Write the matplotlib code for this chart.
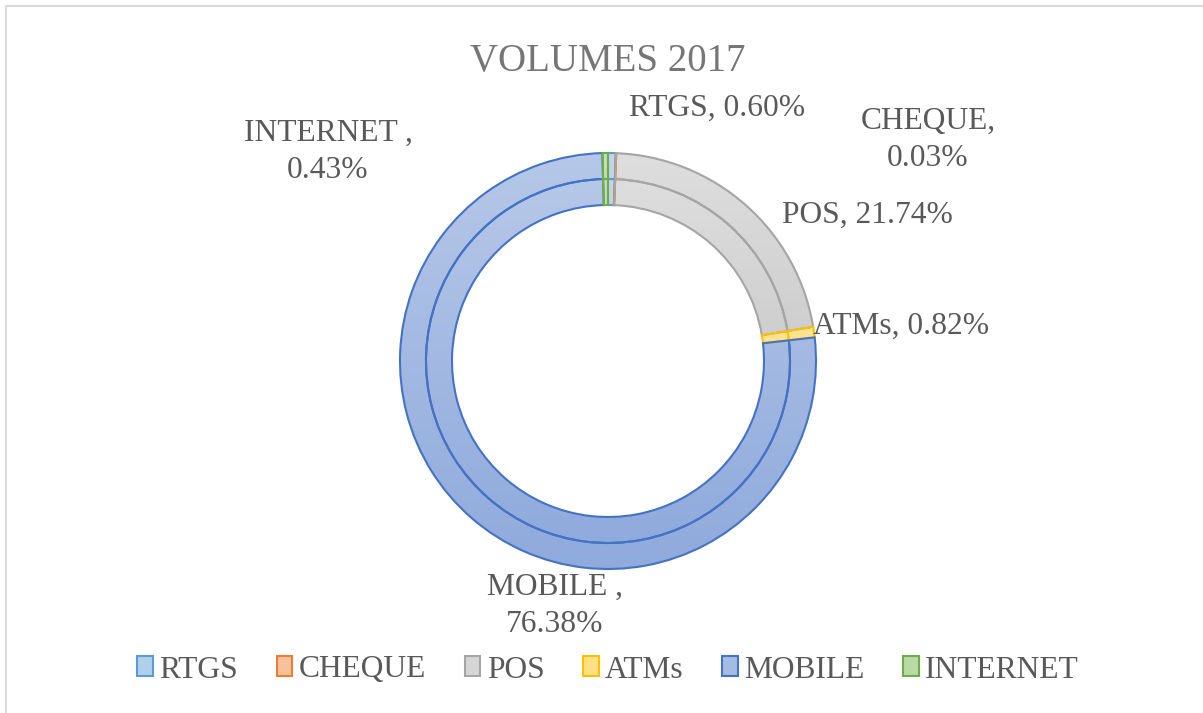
import matplotlib.pyplot as plt
import numpy as np
from matplotlib.colors import to_rgb
from matplotlib.patches import Patch, Rectangle

W, H = 1203, 713

CATEGORIES = ["RTGS", "CHEQUE", "POS", "ATMs", "MOBILE", "INTERNET"]
SHARE_2017 = [0.60, 0.03, 21.74, 0.82, 76.38, 0.43]
# the label text keeps the odd spacing of the original
LABEL_SEP = [", ", ",\n", ", ", ", ", " ,\n", " ,\n"]

FILL = ["#9dc3e6", "#f4b183", "#cccccc", "#ffd966", "#8faadc", "#a9d18e"]
EDGE = ["#5b9bd5", "#ed7d31", "#a5a5a5", "#ffc000", "#4472c4", "#70ad47"]
LABEL_POS = [(717, 108), (928, 140), (867, 215), (901, 326), (555, 606), (328, 152)]

TEXT_GREY = "#595959"
SERIF = ["Liberation Serif", "DejaVu Serif"]


def py(y):
    # pixel row (from top) to data y
    return H - y


def lighten(color, amount):
    c = np.array(to_rgb(color))
    return tuple(c + (1.0 - c) * amount)


def gradient_fill(ax, wedge, color):
    verts = wedge.get_path().vertices
    x0, x1 = verts[:, 0].min(), verts[:, 0].max()
    y0, y1 = verts[:, 1].min(), verts[:, 1].max()
    bottom = np.array(to_rgb(color))
    top = np.array(lighten(color, 0.35))
    t = np.linspace(0, 1, 64)[:, None, None]
    img = bottom * (1 - t) + top * t
    img = np.repeat(img, 2, axis=1)
    im = ax.imshow(img, extent=(x0, x1, y0, y1), origin="lower",
                   aspect="auto", interpolation="bilinear", zorder=1)
    im.set_clip_path(wedge)


fig = plt.figure(figsize=(W / 100, H / 100), dpi=100)
ax = fig.add_axes([0, 0, 1, 1])

center = (608, py(361))
rings = [(208, 26), (182, 26)]
for radius, width in rings:
    wedges, _ = ax.pie(SHARE_2017, radius=radius, center=center, startangle=90,
                       counterclock=False,
                       wedgeprops=dict(width=width, linewidth=1.5))
    for w, fc, ec in zip(wedges, FILL, EDGE):
        gradient_fill(ax, w, fc)
        w.set_facecolor("none")
        w.set_edgecolor(ec)
        w.set_zorder(2)

for cat, sep, val, (lx, ly) in zip(CATEGORIES, LABEL_SEP, SHARE_2017, LABEL_POS):
    ax.text(lx, py(ly), f"{cat}{sep}{val:.2f}%", ha="center", va="center",
            fontsize=22.7, color=TEXT_GREY, family=SERIF, linespacing=1.38)

ax.text(608, py(61), "VOLUMES 2017", ha="center", va="center",
        fontsize=28, color="#767676", family=SERIF)

ax.set_xlim(0, W)
ax.set_ylim(0, H)
ax.set_aspect("auto")
ax.axis("off")

handles = [Patch(facecolor=lighten(fc, 0.2), edgecolor=ec, linewidth=1.5)
           for fc, ec in zip(FILL, EDGE)]
fig.legend(handles, CATEGORIES, loc="center", bbox_to_anchor=(608 / W, 1 - 670 / H),
           ncol=6, frameon=False, handlelength=0.5, handleheight=0.6,
           handletextpad=0.2, columnspacing=1.22, labelcolor=TEXT_GREY,
           prop=dict(family=SERIF, size=22.7))

# chart frame, only top and left edges fall inside the picture
fig.patches.append(Rectangle((6 / W, -0.05), 1.2, 1.05 - 6 / H, transform=fig.transFigure,
                             fill=False, edgecolor="#d9d9d9", linewidth=1.5))

fig.savefig("out.png", dpi=100)
